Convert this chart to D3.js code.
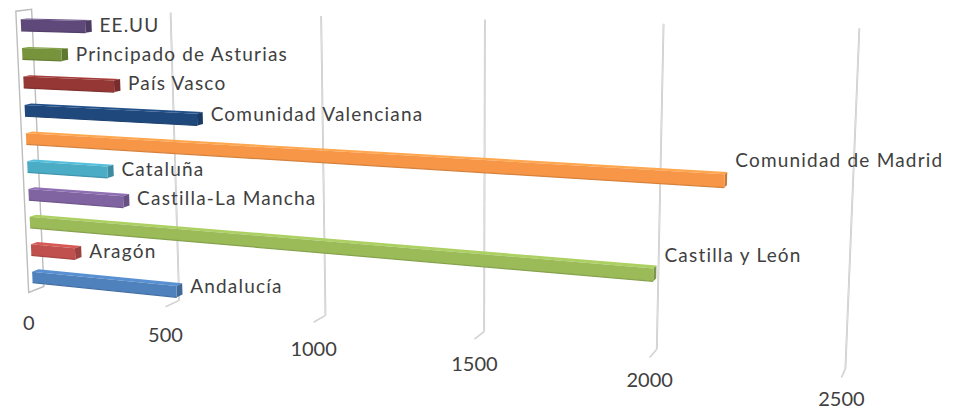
<!DOCTYPE html>
<html>
<head>
<meta charset="utf-8">
<script src="https://cdn.jsdelivr.net/npm/d3@7"></script>
<style>
  html, body { margin: 0; padding: 0; background: #fff; }
  svg { display: block; }
  text { font-family: Lato, "Open Sans", sans-serif; fill: #404040; }
</style>
</head>
<body>
<svg id="chart" width="964" height="411"></svg>
<script>
// Regions (bottom to top, as stored in the worksheet) and their totals
const categories = [
  "Andalucía", "Aragón", "Castilla y León", "Castilla-La Mancha", "Cataluña",
  "Comunidad de Madrid", "Comunidad Valenciana", "País Vasco",
  "Principado de Asturias", "EE.UU"
];
const values = [527, 165, 2000, 348, 295, 2183, 615, 330, 145, 235];
const barColors = [
  "#4F81BD", "#C0504D", "#9BBB59", "#8064A2", "#4BACC6",
  "#F79646", "#1F497D", "#953735", "#77933C", "#5F497A"
];
const valueTicks = [0, 500, 1000, 1500, 2000, 2500];

// ---- 3D frame --------------------------------------------------------------
// Box coordinates: u = value axis (0..1), w = category axis (0 top .. 1 bottom),
// d = depth (0 back wall .. 1 front edge of the floor).
// Screen positions of the box edges used to calibrate the perspective camera.
const frameAnchors = [
  [0, 0, 0, 32, 11], [0, 1, 0, 42, 285], [0, 0, 1, 15, 11], [0, 1, 1, 28, 292],
  [0.2, 0, 0, 171, 13], [0.2, 1, 0, 180, 300], [0.2, 1, 1, 167, 308],
  [0.4, 0, 0, 321, 16], [0.4, 1, 0, 327, 315], [0.4, 1, 1, 315, 322],
  [0.6, 0, 0, 485, 19], [0.6, 1, 0, 483, 332], [0.6, 1, 1, 473, 340],
  [0.8, 0, 0, 664, 23], [0.8, 1, 0, 657, 348], [0.8, 1, 1, 650, 357],
  [1, 0, 0, 859, 27], [1, 1, 0, 845, 372], [1, 1, 1, 841, 377]
];

// Least-squares fit of a 3x4 projective camera (direct linear transform)
function fitCamera(anchors) {
  const n = 11;
  const M = Array.from({ length: n }, () => new Array(n + 1).fill(0));
  const addRow = (row, rhs) => {
    for (let i = 0; i < n; i++) {
      for (let j = 0; j < n; j++) M[i][j] += row[i] * row[j];
      M[i][n] += row[i] * rhs;
    }
  };
  anchors.forEach(([u, w, d, x, y]) => {
    addRow([u, w, d, 1, 0, 0, 0, 0, -x * u, -x * w, -x * d], x);
    addRow([0, 0, 0, 0, u, w, d, 1, -y * u, -y * w, -y * d], y);
  });
  for (let c = 0; c < n; c++) {
    let p = c;
    for (let r = c + 1; r < n; r++) if (Math.abs(M[r][c]) > Math.abs(M[p][c])) p = r;
    [M[c], M[p]] = [M[p], M[c]];
    for (let r = 0; r < n; r++) {
      if (r === c) continue;
      const f = M[r][c] / M[c][c];
      for (let k = c; k <= n; k++) M[r][k] -= f * M[c][k];
    }
  }
  const p = M.map((row, i) => row[n] / row[i]);
  return (u, w, d) => {
    const h = p[8] * u + p[9] * w + p[10] * d + 1;
    return [
      (p[0] * u + p[1] * w + p[2] * d + p[3]) / h,
      (p[4] * u + p[5] * w + p[6] * d + p[7]) / h
    ];
  };
}
const project = fitCamera(frameAnchors);

// ---- scales ----------------------------------------------------------------
const x = d3.scaleLinear().domain([0, 2500]).range([0, 1]);
const y = d3.scaleBand()
  .domain(categories.slice().reverse())
  .range([0, 1])
  .paddingInner(0.6)
  .paddingOuter(0.3);

const barBack = 0.3, barFront = 0.72;   // depth slab occupied by the bars

const svg = d3.select("#chart");
svg.append("rect").attr("width", 964).attr("height", 411).attr("fill", "#fff");

const line = d3.line();
const poly = pts => line(pts.map(p => project(...p))) + "Z";

// ---- walls and gridlines -----------------------------------------------------
const grid = svg.append("g").attr("fill", "none");

// left side wall outline (value 0)
grid.append("path")
  .attr("d", poly([[0, 0, 0], [0, 1, 0], [0, 1, 1], [0, 0, 1]]))
  .attr("stroke", "#bdbdbd").attr("stroke-width", 1.4);

valueTicks.filter(t => t > 0).forEach(t => {
  const u = x(t);
  grid.append("path")
    .attr("d", line([project(u, 0, 0), project(u, 1, 0)]))
    .attr("stroke", "#c4c4c4").attr("stroke-width", 1.8);
  grid.append("path")
    .attr("d", line([project(u, 0, 0), project(u, 1, 0)]))
    .attr("stroke", "#efefef").attr("stroke-width", 0.6);
  grid.append("path")
    .attr("d", line([project(u, 1, 0), project(u, 1, 1)]))
    .attr("stroke", "#d2d2d2").attr("stroke-width", 1.6);
});

// ---- bars ------------------------------------------------------------------
const bars = svg.append("g");
categories.forEach((c, i) => {
  const u1 = x(values[i]);
  const w0 = y(c), w1 = y(c) + y.bandwidth();
  const base = d3.color(barColors[i]);
  const g = bars.append("g");
  // top face
  g.append("path")
    .attr("d", poly([[0, w0, barBack], [u1, w0, barBack], [u1, w0, barFront], [0, w0, barFront]]))
    .attr("fill", base.brighter(0.3));
  // end cap
  g.append("path")
    .attr("d", poly([[u1, w0, barBack], [u1, w1, barBack], [u1, w1, barFront], [u1, w0, barFront]]))
    .attr("fill", base.darker(0.6));
  // front face
  g.append("path")
    .attr("d", poly([[0, w0, barFront], [u1, w0, barFront], [u1, w1, barFront], [0, w1, barFront]]))
    .attr("fill", base);
  // slightly darker lower edge of the front face
  g.append("path")
    .attr("d", line([project(0, w1, barFront), project(u1, w1, barFront)]))
    .attr("stroke", base.darker(0.4)).attr("stroke-width", 1.2).attr("fill", "none");
});

// ---- data labels (category names at the bar ends) ----------------------------
const labels = svg.append("g").attr("font-size", 19).attr("letter-spacing", 1.2);
categories.forEach((c, i) => {
  const u1 = x(values[i]);
  const [px, py] = project(u1, y(c), barBack);
  labels.append("text")
    .attr("x", px + 8)
    .attr("y", py + 9 - 22 * u1)
    .attr("dominant-baseline", "middle")
    .text(c);
});

// ---- value axis labels ---------------------------------------------------------
const axis = svg.append("g").attr("font-size", 20).attr("text-anchor", "middle");
valueTicks.forEach(t => {
  const u = x(t);
  const [px, py] = project(u, 1, 1);
  axis.append("text")
    .attr("x", px)
    .attr("y", py + 32 - 9 * u)
    .attr("dominant-baseline", "middle")
    .text(t);
});
</script>
</body>
</html>
